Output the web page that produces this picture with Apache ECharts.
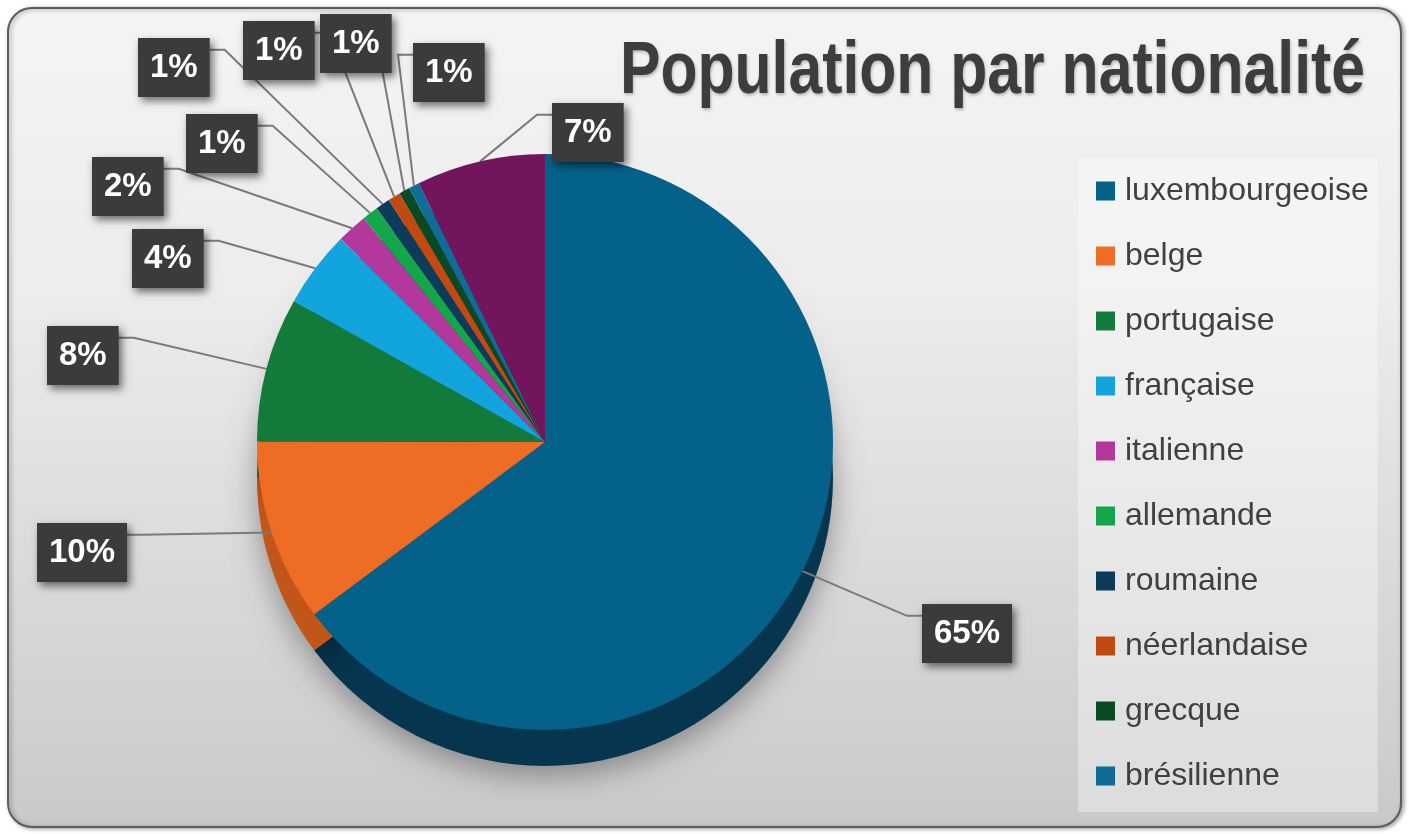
<!DOCTYPE html>
<html>
<head>
<meta charset="utf-8">
<script src="https://cdn.jsdelivr.net/npm/echarts@6/dist/echarts.min.js"></script>
<style>
  html, body { margin: 0; padding: 0; background: #ffffff; }
  #chart { width: 1409px; height: 834px; }
</style>
</head>
<body>
<div id="chart"></div>
<script>
// ---- data ----
const categories = ['luxembourgeoise', 'belge', 'portugaise', 'française', 'italienne',
  'allemande', 'roumaine', 'néerlandaise', 'grecque', 'brésilienne', 'autres'];
const values = [64.6, 10.2, 8.1, 4.3, 1.7, 0.9, 0.8, 0.7, 0.6, 0.6, 7.2];
const legendNames = categories.slice(0, 10);
const titleText = 'Population par nationalité';

// ---- styles / layout ----
const topColors = ['#03618a', '#ee6c23', '#127a3a', '#12a4dd', '#b2399b',
  '#13a64a', '#0c3b5c', '#c2490f', '#0a4a22', '#0f6c96', '#72155c'];
const sideColors = ['#05354f', '#c2561a', '#0c5a2a', '#0d7fae', '#8a2b78',
  '#0e7e38', '#082a42', '#97380b', '#073618', '#0b5070', '#540f44'];
const labelBoxes = [[922, 604], [37, 523], [47, 326], [132, 229], [92, 157],
  [186, 114], [138, 38], [243, 21], [320, 14], [413, 43], [552, 103]];

const pieCenter = [545, 442];
const pieRadius = 288;
const depth = 36;

const chart = echarts.init(document.getElementById('chart'), null, { renderer: 'canvas' });

const topData = categories.map((n, i) => ({ name: n, value: values[i], itemStyle: { color: topColors[i] } }));
const sideData = categories.map((n, i) => ({ name: n, value: values[i], itemStyle: { color: sideColors[i] } }));

chart.setOption({
  animation: false,
  graphic: [{
    type: 'rect',
    z: -10,
    shape: { x: 8, y: 8, width: 1393, height: 819, r: 24 },
    style: {
      fill: new echarts.graphic.LinearGradient(0, 0, 0, 1, [
        { offset: 0, color: '#f4f4f4' },
        { offset: 0.35, color: '#ececec' },
        { offset: 1, color: '#c9c9c9' }
      ]),
      stroke: '#5c5c5c',
      lineWidth: 2,
      shadowBlur: 4,
      shadowColor: 'rgba(0,0,0,0.35)',
      shadowOffsetX: 2,
      shadowOffsetY: 1
    }
  }, {
    type: 'text',
    z: 1,
    x: 1365,
    y: 73,
    scaleX: 0.82,
    style: {
      text: titleText,
      align: 'right',
      verticalAlign: 'middle',
      fontFamily: '"Liberation Sans", Arial, sans-serif',
      fontWeight: 'bold',
      fontSize: 74,
      fill: '#3d3d3d',
      textShadowColor: 'rgba(0,0,0,0.25)',
      textShadowBlur: 3,
      textShadowOffsetX: 1,
      textShadowOffsetY: 2
    }
  }],
  legend: {
    orient: 'vertical',
    left: 1078,
    top: 158,
    padding: [17, 9, 20, 18],
    backgroundColor: 'rgba(255,255,255,0.35)',
    data: legendNames,
    icon: 'rect',
    itemWidth: 19,
    itemHeight: 19,
    itemGap: 33,
    selectedMode: false,
    textStyle: {
      fontFamily: '"Liberation Sans", Arial, sans-serif',
      fontSize: 32,
      lineHeight: 32,
      color: '#404040',
      padding: [0, 0, 0, 5]
    }
  },
  series: [
    {
      type: 'pie',
      name: 'top',
      z: 3,
      center: pieCenter,
      radius: pieRadius,
      startAngle: 90,
      clockwise: true,
      data: topData,
      itemStyle: { borderWidth: 0 },
      emphasis: { disabled: true },
      label: {
        show: true,
        position: 'outside',
        formatter: p => Math.round(p.percent) + '%',
        fontFamily: '"Liberation Sans", Arial, sans-serif',
        fontWeight: 'bold',
        fontSize: 33,
        lineHeight: 33,
        color: '#ffffff',
        backgroundColor: '#3b3b3b',
        padding: [13, 12, 13, 12],
        shadowColor: 'rgba(0,0,0,0.55)',
        shadowBlur: 8,
        shadowOffsetX: 3,
        shadowOffsetY: 4
      },
      labelLine: {
        show: true,
        length: 20,
        length2: 20,
        lineStyle: { color: '#7a7a7a', width: 2 }
      },
      labelLayout: function (params) {
        const i = params.dataIndex;
        const box = labelBoxes[i];
        const w = params.labelRect.width;
        const h = params.labelRect.height;
        const p0 = params.labelLinePoints ? params.labelLinePoints[0] : null;
        const out = { x: box[0], y: box[1], align: 'left', verticalAlign: 'top' };
        if (p0) {
          const cx = box[0] + w / 2;
          let end, elbow;
          if (cx < p0[0]) {
            end = [box[0] + w, box[1] + h * 0.2];
            elbow = [end[0] + 15, end[1]];
          } else {
            end = [box[0], box[1] + h * 0.2];
            elbow = [end[0] - 15, end[1]];
          }
          if (i === 8) { // label right above its slice: vertical leader
            end = [box[0] + w * 0.88, box[1] + h];
            elbow = [end[0], end[1] + 2];
          }
          out.labelLinePoints = [p0, elbow, end];
        }
        return out;
      }
    },
    {
      type: 'pie',
      name: 'side',
      z: 2,
      silent: true,
      center: [pieCenter[0], pieCenter[1] + depth],
      radius: pieRadius,
      startAngle: 90,
      clockwise: true,
      data: sideData,
      label: { show: false },
      labelLine: { show: false },
      itemStyle: {
        borderWidth: 0,
        shadowBlur: 30,
        shadowColor: 'rgba(0,0,0,0.35)',
        shadowOffsetX: 0,
        shadowOffsetY: 10
      },
      emphasis: { disabled: true }
    }
  ]
});
</script>
</body>
</html>
